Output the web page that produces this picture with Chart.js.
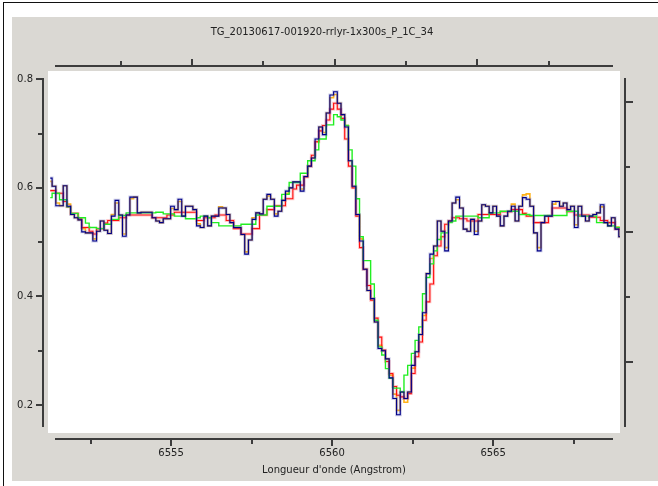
<!DOCTYPE html>
<html>
<head>
<meta charset="utf-8">
<script src="https://cdn.jsdelivr.net/npm/chart.js@4.4.1/dist/chart.umd.min.js"></script>
<style>
  body { margin: 0; background: #fff; }
  #wrap { position: relative; width: 658px; height: 486px; overflow: hidden; background: #fff; }
  #edge { position: absolute; left: 3px; top: 2px; right: 0; bottom: 0; border-left: 1px solid #111; border-top: 1px solid #111; }
  #panel { position: absolute; left: 12px; top: 17px; width: 646px; height: 464px; background: #dad8d3; }
  #spec { position: absolute; left: 0; top: 0; }
  #title { position: absolute; left: 0; top: 26px; width: 644px; text-align: center;
           font: 10px "DejaVu Sans", sans-serif; line-height: 12px; color: #222; }
</style>
</head>
<body>
<div id="wrap">
  <div id="edge"></div>
  <div id="panel"></div>
  <canvas id="spec" width="658" height="486"></canvas>
  <div id="title">TG_20130617-001920-rrlyr-1x300s_P_1C_34</div>
</div>
<script>
// wavelength grid of the spectrum (Angstrom)
const WAVE0 = 6551.25;
const DISP = 0.115;

// flux, one value per bin
const fluxBlue = [
  0.618, 0.603, 0.567, 0.567, 0.604, 0.566, 0.551, 0.545, 0.541, 0.519,
  0.517, 0.517, 0.502, 0.520, 0.539, 0.522, 0.516, 0.548, 0.577, 0.550,
  0.511, 0.550, 0.583, 0.583, 0.554, 0.555, 0.555, 0.555, 0.545, 0.539,
  0.536, 0.543, 0.543, 0.566, 0.560, 0.579, 0.548, 0.566, 0.566, 0.560,
  0.530, 0.527, 0.548, 0.530, 0.548, 0.548, 0.563, 0.563, 0.551, 0.536,
  0.527, 0.527, 0.514, 0.478, 0.504, 0.542, 0.554, 0.552, 0.579, 0.588,
  0.579, 0.548, 0.557, 0.577, 0.594, 0.600, 0.611, 0.611, 0.594, 0.621,
  0.640, 0.655, 0.690, 0.712, 0.698, 0.738, 0.771, 0.777, 0.756, 0.735,
  0.712, 0.650, 0.603, 0.551, 0.502, 0.450, 0.411, 0.396, 0.353, 0.304,
  0.300, 0.285, 0.250, 0.212, 0.182, 0.224, 0.212, 0.224, 0.273, 0.298,
  0.330, 0.370, 0.442, 0.478, 0.493, 0.539, 0.520, 0.484, 0.539, 0.572,
  0.583, 0.563, 0.524, 0.520, 0.542, 0.514, 0.539, 0.569, 0.566, 0.554,
  0.566, 0.548, 0.530, 0.548, 0.557, 0.566, 0.539, 0.566, 0.582, 0.579,
  0.566, 0.517, 0.484, 0.536, 0.548, 0.548, 0.575, 0.575, 0.566, 0.572,
  0.560, 0.566, 0.527, 0.566, 0.548, 0.539, 0.548, 0.551, 0.554, 0.569,
  0.536, 0.530, 0.545, 0.524, 0.510
];
const fluxOrange = [
  0.612, 0.603, 0.572, 0.567, 0.604, 0.570, 0.551, 0.545, 0.541, 0.525,
  0.517, 0.517, 0.506, 0.520, 0.539, 0.522, 0.516, 0.551, 0.572, 0.550,
  0.515, 0.550, 0.580, 0.583, 0.554, 0.555, 0.555, 0.555, 0.545, 0.539,
  0.536, 0.543, 0.543, 0.562, 0.560, 0.575, 0.548, 0.566, 0.566, 0.560,
  0.534, 0.527, 0.548, 0.530, 0.548, 0.548, 0.565, 0.563, 0.551, 0.536,
  0.527, 0.527, 0.514, 0.482, 0.504, 0.545, 0.554, 0.552, 0.579, 0.585,
  0.579, 0.552, 0.557, 0.577, 0.590, 0.600, 0.611, 0.611, 0.598, 0.621,
  0.640, 0.655, 0.685, 0.712, 0.702, 0.738, 0.766, 0.772, 0.756, 0.735,
  0.715, 0.650, 0.603, 0.551, 0.506, 0.450, 0.411, 0.396, 0.353, 0.310,
  0.300, 0.285, 0.255, 0.220, 0.190, 0.224, 0.205, 0.224, 0.268, 0.298,
  0.330, 0.365, 0.442, 0.470, 0.493, 0.539, 0.520, 0.490, 0.539, 0.572,
  0.578, 0.563, 0.524, 0.520, 0.542, 0.520, 0.539, 0.569, 0.566, 0.554,
  0.566, 0.548, 0.530, 0.548, 0.557, 0.570, 0.539, 0.566, 0.587, 0.589,
  0.566, 0.517, 0.490, 0.536, 0.548, 0.548, 0.570, 0.575, 0.566, 0.572,
  0.560, 0.566, 0.532, 0.566, 0.548, 0.539, 0.548, 0.551, 0.554, 0.565,
  0.536, 0.530, 0.545, 0.528, 0.510
];
const fluxRed = [
  0.595, 0.595, 0.590, 0.590, 0.575, 0.565, 0.553, 0.553, 0.543, 0.527,
  0.527, 0.520, 0.515, 0.525, 0.525, 0.535, 0.540, 0.540, 0.540, 0.545,
  0.545, 0.550, 0.550, 0.550, 0.550, 0.550, 0.550, 0.550, 0.545, 0.545,
  0.545, 0.545, 0.550, 0.550, 0.555, 0.555, 0.555, 0.555, 0.555, 0.555,
  0.540, 0.540, 0.545, 0.545, 0.545, 0.550, 0.550, 0.550, 0.540, 0.540,
  0.525, 0.525, 0.515, 0.515, 0.515, 0.525, 0.525, 0.550, 0.550, 0.560,
  0.560, 0.567, 0.567, 0.567, 0.580, 0.580, 0.598, 0.605, 0.605, 0.620,
  0.640, 0.660, 0.685, 0.705, 0.715, 0.725, 0.745, 0.756, 0.745, 0.728,
  0.690, 0.640, 0.600, 0.548, 0.490, 0.450, 0.420, 0.393, 0.360, 0.325,
  0.301, 0.280, 0.258, 0.234, 0.218, 0.215, 0.212, 0.221, 0.258, 0.289,
  0.316, 0.356, 0.390, 0.423, 0.475, 0.493, 0.510, 0.533, 0.539, 0.545,
  0.545, 0.543, 0.543, 0.539, 0.539, 0.539, 0.551, 0.551, 0.551, 0.551,
  0.551, 0.551, 0.556, 0.556, 0.556, 0.560, 0.560, 0.560, 0.553, 0.548,
  0.548, 0.536, 0.536, 0.536, 0.536, 0.548, 0.563, 0.563, 0.563, 0.563,
  0.556, 0.556, 0.550, 0.550, 0.550, 0.550, 0.546, 0.546, 0.546, 0.540,
  0.540, 0.536, 0.536, 0.524, 0.524
];
const fluxGreen = [
  0.582, 0.590, 0.590, 0.578, 0.578, 0.565, 0.553, 0.553, 0.545, 0.545,
  0.535, 0.527, 0.527, 0.525, 0.525, 0.533, 0.533, 0.542, 0.542, 0.549,
  0.549, 0.554, 0.554, 0.554, 0.554, 0.554, 0.554, 0.554, 0.554, 0.555,
  0.555, 0.552, 0.552, 0.552, 0.548, 0.548, 0.548, 0.543, 0.543, 0.543,
  0.545, 0.548, 0.548, 0.545, 0.536, 0.536, 0.530, 0.530, 0.530, 0.530,
  0.530, 0.530, 0.533, 0.533, 0.533, 0.533, 0.550, 0.550, 0.550, 0.566,
  0.566, 0.566, 0.566, 0.588, 0.588, 0.610, 0.610, 0.610, 0.627, 0.627,
  0.650, 0.650, 0.670, 0.690, 0.690, 0.716, 0.716, 0.735, 0.731, 0.725,
  0.715, 0.670, 0.640, 0.580, 0.510, 0.466, 0.466, 0.423, 0.356, 0.307,
  0.292, 0.267, 0.249, 0.231, 0.231, 0.224, 0.255, 0.273, 0.295, 0.319,
  0.344, 0.405, 0.435, 0.460, 0.484, 0.505, 0.517, 0.517, 0.536, 0.539,
  0.548, 0.548, 0.548, 0.548, 0.548, 0.548, 0.545, 0.545, 0.545, 0.554,
  0.554, 0.554, 0.557, 0.557, 0.557, 0.557, 0.557, 0.551, 0.551, 0.551,
  0.549, 0.549, 0.549, 0.549, 0.549, 0.549, 0.549, 0.549, 0.549, 0.549,
  0.557, 0.557, 0.557, 0.548, 0.548, 0.548, 0.548, 0.548, 0.536, 0.536,
  0.536, 0.530, 0.530, 0.527, 0.527
];

// axis ranges and tick marks
const X_MIN = 6551.18, X_MAX = 6568.94;
const Y_MIN = 0.1484, Y_MAX = 0.8153;
const xTicks = [6552.5, 6555, 6557.5, 6560, 6562.5, 6565, 6567.5];
const yTicks = [0.2, 0.3, 0.4, 0.5, 0.6, 0.7, 0.8];
// unlabeled top (velocity) and right axes
const topTicks = [-300, -200, -100, 0, 100, 200, 300];
const rightTicks = [1, 2, 3, 4, 5];

const AXIS_COLOR = '#3c3c3c';
const TEXT_COLOR = '#222';
const FONT = { family: 'DejaVu Sans', size: 10 };

const wave = fluxBlue.map((f, i) => WAVE0 + i * DISP);
const pts = (arr) => arr.map((f, i) => ({ x: wave[i], y: f }));

function line(data, color, width) {
  return {
    data: pts(data),
    borderColor: color,
    borderWidth: width,
    stepped: 'middle',
    pointRadius: 0,
    fill: false
  };
}

// white plot area + offset axes like the original applet
const frame = {
  id: 'frame',
  beforeDraw(chart) {
    const { ctx, chartArea: a } = chart;
    ctx.save();
    ctx.fillStyle = '#fff';
    ctx.fillRect(a.left, a.top, a.right - a.left, a.bottom - a.top);
    ctx.restore();
  },
  afterDraw(chart) {
    const { ctx, chartArea: a, scales } = chart;
    const xl = a.left + 7, xr = a.right - 7, yt = a.top + 7, yb = a.bottom - 6;
    const bottomY = a.bottom + 6, topY = a.top - 5, leftX = a.left - 5, rightX = a.right + 5;
    ctx.save();
    ctx.strokeStyle = AXIS_COLOR;
    ctx.lineWidth = 2;
    ctx.beginPath();
    ctx.moveTo(xl, bottomY); ctx.lineTo(xr, bottomY);
    ctx.moveTo(xl, topY); ctx.lineTo(xr, topY);
    ctx.moveTo(leftX, yt); ctx.lineTo(leftX, yb);
    ctx.moveTo(rightX, yt); ctx.lineTo(rightX, yb);
    xTicks.forEach(v => {
      const p = Math.round(scales.x.getPixelForValue(v));
      ctx.moveTo(p, bottomY); ctx.lineTo(p, bottomY + (v % 5 === 0 ? 7 : 5));
    });
    topTicks.forEach(v => {
      const p = Math.round(scales.x2.getPixelForValue(v));
      ctx.moveTo(p, topY); ctx.lineTo(p, topY - (v % 200 === 0 ? 7 : 5));
    });
    yTicks.forEach(v => {
      const p = Math.round(scales.y.getPixelForValue(v));
      ctx.moveTo(leftX, p); ctx.lineTo(leftX - (Math.round(v * 10) % 2 === 0 ? 7 : 5), p);
    });
    rightTicks.forEach(v => {
      const p = Math.round(scales.y2.getPixelForValue(v));
      ctx.moveTo(rightX, p); ctx.lineTo(rightX + (v % 2 === 1 ? 8 : 5), p);
    });
    ctx.stroke();
    ctx.restore();
  }
};

new Chart(document.getElementById('spec'), {
  type: 'line',
  data: {
    datasets: [
      line(fluxBlue, '#000088', 1.1),
      line(fluxBlue, 'rgba(90, 90, 180, 0.3)', 3),
      line(fluxGreen, '#22ee22', 1.4),
      line(fluxRed, '#ff1010', 1.1),
      line(fluxRed, 'rgba(255, 80, 80, 0.3)', 3),
      line(fluxOrange, 'rgba(255, 170, 0, 0.9)', 1.6)
    ]
  },
  options: {
    responsive: false,
    animation: false,
    devicePixelRatio: 1,
    layout: { padding: { left: 0, right: 38, top: 71, bottom: 0 } },
    plugins: { legend: { display: false }, tooltip: { enabled: false } },
    scales: {
      x: {
        type: 'linear', position: 'bottom', min: X_MIN, max: X_MAX,
        afterFit: (s) => { s.height = 53; },
        afterBuildTicks: (s) => { s.ticks = xTicks.map(v => ({ value: v })); },
        ticks: {
          autoSkip: false, maxRotation: 0, padding: 2, color: TEXT_COLOR, font: FONT,
          callback: (v) => (v % 5 === 0 ? String(v) : '')
        },
        grid: { drawOnChartArea: false, color: 'rgba(0,0,0,0)', tickLength: 12 },
        border: { display: false },
        title: {
          display: true, text: "Longueur d'onde (Angstrom)", color: TEXT_COLOR, font: FONT,
          padding: { top: 0, bottom: 10 }
        }
      },
      y: {
        type: 'linear', position: 'left', min: Y_MIN, max: Y_MAX,
        afterFit: (s) => { s.width = 48; },
        afterBuildTicks: (s) => { s.ticks = yTicks.map(v => ({ value: v })); },
        ticks: {
          autoSkip: false, padding: 3, color: TEXT_COLOR, font: FONT,
          callback: (v) => (Math.round(v * 10) % 2 === 0 ? v.toFixed(1) : '')
        },
        grid: { drawOnChartArea: false, color: 'rgba(0,0,0,0)', tickLength: 12 },
        border: { display: false }
      },
      x2: { type: 'linear', position: 'top', display: false, min: -402, max: 400 },
      y2: { type: 'linear', position: 'right', display: false, min: -0.092, max: 5.477 }
    }
  },
  plugins: [frame]
});
</script>
</body>
</html>
